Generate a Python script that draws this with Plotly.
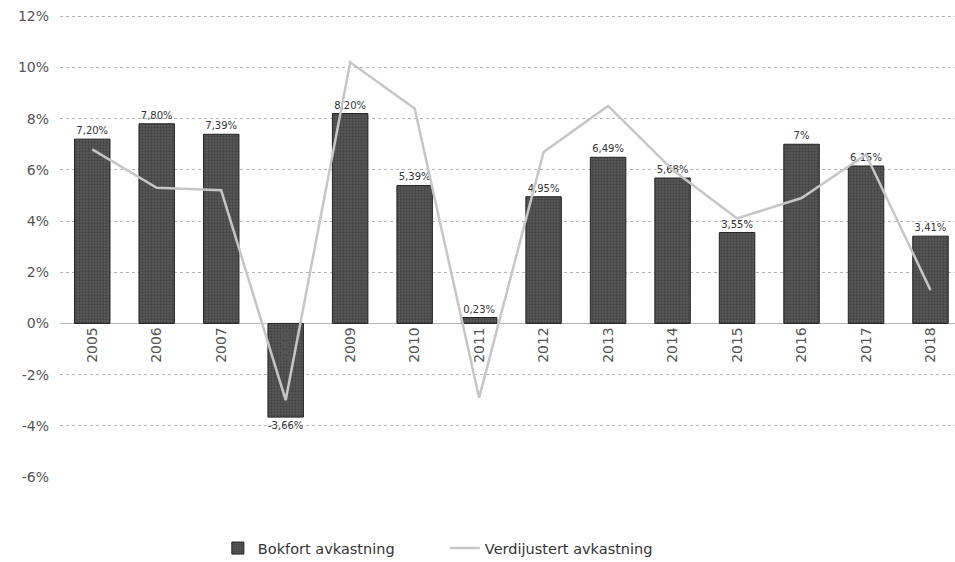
import plotly.graph_objects as go

years = [str(y) for y in range(2005, 2019)]
bokfort = [7.20, 7.80, 7.39, -3.66, 8.20, 5.39, 0.23, 4.95, 6.49, 5.68, 3.55, 7.00, 6.15, 3.41]
verdijustert = [6.8, 5.3, 5.2, -3.0, 10.2, 8.4, -2.9, 6.7, 8.5, 6.0, 4.1, 4.9, 6.6, 1.3]
y_ticks = [-6, -4, -2, 0, 2, 4, 6, 8, 10, 12]


def fmt(v):
    if v == round(v):
        return f"{int(v)}%"
    return f"{v:.2f}".replace(".", ",") + "%"


fig = go.Figure()

fig.add_trace(go.Bar(
    x=years, y=bokfort,
    name="Bokfort avkastning",
    text=[fmt(v) for v in bokfort],
    textposition="outside",
    textfont=dict(family="DejaVu Sans", size=10, color="#333333"),
    cliponaxis=False,
    marker=dict(color="#5a5a5a",
                line=dict(color="#222222", width=1),
                pattern=dict(shape=".", fgcolor="#2a2a2a", size=3, solidity=0.45)),
))

fig.add_trace(go.Scatter(
    x=years, y=verdijustert,
    name="Verdijustert avkastning",
    mode="lines",
    line=dict(color="#c6c6c6", width=2.5),
))

fig.update_layout(
    width=955, height=562,
    margin=dict(l=60, r=0, t=15, b=85, autoexpand=False),
    plot_bgcolor="white", paper_bgcolor="white",
    bargap=0.45,
    showlegend=True,
    legend=dict(orientation="h", x=0.43, xanchor="center", y=-0.154, yanchor="middle",
                entrywidth=182,
                font=dict(family="DejaVu Sans", size=14.5, color="#333333")),
    font=dict(family="DejaVu Sans", size=13, color="#555555"),
)

fig.update_xaxes(
    type="category",
    anchor="free", position=6 / 18.05,
    tickangle=-90,
    showline=False, showgrid=False, ticks="",
    tickfont=dict(family="DejaVu Sans", size=14, color="#555555"),
    range=[-0.5, 13.38],
    automargin=False,
)

fig.update_yaxes(
    range=[-6, 12.05],
    tickvals=y_ticks,
    ticktext=[f"{t}%" for t in y_ticks],
    showgrid=True, gridcolor="#b5b5b5", griddash="dot", gridwidth=1,
    zeroline=True, zerolinecolor="#b5b5b5", zerolinewidth=1,
    tickfont=dict(family="DejaVu Sans", size=14, color="#555555"),
    ticklabelstandoff=10,
    automargin=False,
)

# drop the default page margin so the figure sits at the window's corner
fig.write_html("out.html", config={"displayModeBar": False},
               post_script="document.body.style.margin='0';")
